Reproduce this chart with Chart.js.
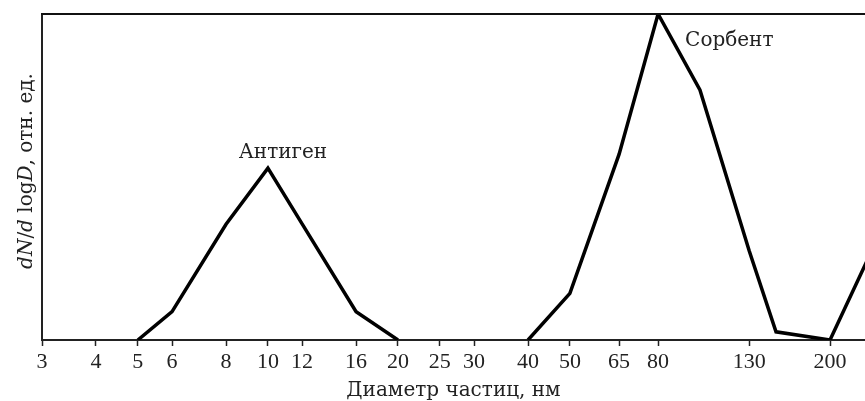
<!DOCTYPE html>
<html lang="ru">
  <head>
    <meta charset="UTF-8" />
    <title>Распределение частиц по размерам</title>
    <script src="https://cdn.jsdelivr.net/npm/chart.js"></script>
    <style>
      html, body { margin: 0; padding: 0; background: #fff; }
      #wrap { width: 865px; height: 401px; }
    </style>
  </head>
  <body>
    <div id="wrap"><canvas id="sizeChart"></canvas></div>

    <script>
      // данные
      const antigenD = [5, 6, 8, 10, 12, 16, 20];
      const antigenN = [0, 8.7, 35.5, 52.7, 35.6, 8.7, 0];
      const sorbentD = [40, 50, 65, 80, 100, 130, 150, 200, 250];
      const sorbentN = [0, 14.3, 57, 100, 76.7, 27.4, 2.5, 0, 27.5];
      const xTicks = [3, 4, 5, 6, 8, 10, 12, 16, 20, 25, 30, 40, 50, 65, 80, 130, 200];
      const xTitle = "Диаметр частиц, нм";
      // подпись оси Y: [текст, курсив?]
      const yTitleParts = [["d", true], ["N", true], ["/", false], ["d", true], [" log", false], ["D", true], [", отн. ед.", false]];

      const toPoints = (xs, ys) => xs.map((x, i) => ({ x: x, y: ys[i] }));

      // подписи кривых и рамка
      const extras = {
        id: "extras",
        afterDraw(chart) {
          const ctx = chart.ctx;
          const xs = chart.scales.x;
          const ys = chart.scales.y;
          const area = chart.chartArea;

          ctx.save();
          // верхняя граница рамки
          ctx.strokeStyle = "#111";
          ctx.lineWidth = 2;
          ctx.beginPath();
          ctx.moveTo(area.left - 1, area.top);
          ctx.lineTo(area.right, area.top);
          ctx.stroke();

          ctx.fillStyle = "#222";
          ctx.font = '20px "DejaVu Serif"';
          ctx.textBaseline = "alphabetic";

          ctx.textAlign = "center";
          ctx.fillText("Антиген", xs.getPixelForValue(10) + 15, ys.getPixelForValue(52.7) - 10);

          ctx.textAlign = "left";
          ctx.fillText("Сорбент", xs.getPixelForValue(80) + 27, ys.getPixelForValue(100) + 32);

          // подпись оси Y с курсивом
          ctx.translate(32, (area.top + area.bottom) / 2 - 6);
          ctx.rotate(-Math.PI / 2);
          const fonts = { true: 'italic 20px "DejaVu Serif"', false: '20px "DejaVu Serif"' };
          let total = 0;
          yTitleParts.forEach(([t, it]) => {
            ctx.font = fonts[it];
            total += ctx.measureText(t).width;
          });
          let pos = -total / 2;
          yTitleParts.forEach(([t, it]) => {
            ctx.font = fonts[it];
            ctx.fillText(t, pos, 0);
            pos += ctx.measureText(t).width;
          });
          ctx.restore();
        },
      };

      const lineStyle = {
        borderColor: "#000",
        borderWidth: 3.5,
        pointRadius: 0,
        tension: 0,
        fill: false,
      };

      new Chart(document.getElementById("sizeChart"), {
        type: "line",
        data: {
          datasets: [
            Object.assign({ label: "Антиген", data: toPoints(antigenD, antigenN) }, lineStyle),
            Object.assign({ label: "Сорбент", data: toPoints(sorbentD, sorbentN) }, lineStyle),
          ],
        },
        options: {
          responsive: true,
          maintainAspectRatio: false,
          animation: false,
          layout: { padding: { top: 14, left: 34, right: 0, bottom: 0 } },
          plugins: {
            legend: { display: false },
            tooltip: { enabled: false },
          },
          scales: {
            x: {
              type: "logarithmic",
              min: 3,
              max: 241,
              afterBuildTicks: (axis) => {
                axis.ticks = xTicks.map((v) => ({ value: v }));
              },
              ticks: {
                autoSkip: false,
                maxRotation: 0,
                padding: 5,
                color: "#222",
                font: { family: "Liberation Serif", size: 22, lineHeight: 1.0 },
                callback: (v) => String(v),
              },
              grid: {
                drawOnChartArea: false,
                drawTicks: true,
                tickLength: 6,
                tickColor: "#222",
                tickWidth: 1.5,
              },
              border: { display: true, color: "#222", width: 2 },
              title: {
                display: true,
                text: xTitle,
                color: "#222",
                padding: { top: 3, bottom: 0 },
                font: { family: "DejaVu Serif", size: 20, lineHeight: 1.0 },
              },
            },
            y: {
              min: 0,
              max: 100,
              ticks: { display: false },
              grid: { display: false },
              border: { display: true, color: "#222", width: 2 },
            },
          },
        },
        plugins: [extras],
      });
    </script>
  </body>
</html>
